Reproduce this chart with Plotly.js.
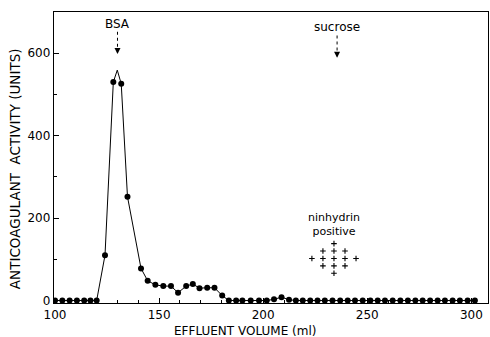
<!DOCTYPE html>
<html>
<head>
<meta charset="utf-8">
<script src="https://cdn.plot.ly/plotly-3.0.1.min.js"></script>
<style>html,body{margin:0;padding:0;background:#fff;}#chart{width:490px;height:337px;}</style>
</head>
<body>
<div id="chart"></div>
<script>
// Effluent volume (ml) of each collected fraction
const volume = [100, 103.5, 107, 110.5, 114, 117, 120, 124, 128, 131.8, 134.8, 141.3, 144.5, 148.2, 152, 155.7, 159.1, 163, 166.2, 169.4, 173.1, 176.6, 180.3, 183.5, 187, 190, 194, 198, 201.7, 205.2, 208.8, 212.4, 215.7, 219, 222.6, 226.1, 229.6, 233.3, 237, 240.6, 244.1, 247.8, 251.5, 255, 258.5, 262.2, 265.9, 269.5, 273.1, 276.6, 280.2, 283.8, 287.3, 291, 294.5, 298.2, 301.7];
// Anticoagulant activity (units)
const activity = [0, 0, 0, 0, 0, 0, 0, 110, 530, 526, 252, 78, 48, 38, 35, 35, 19, 35, 40, 30, 31, 31, 12, 0, 0, 0, 0, 0, 0, 3, 8, 2, 0, 0, 0, 0, 0, 0, 0, 0, 0, 0, 0, 0, 0, 0, 0, 0, 0, 0, 0, 0, 0, 0, 0, 0, 0];
// Apex of the hand-drawn curve between the two peak fractions
const apexVolume = [129.9];
const apexActivity = [559];
const xTicks = [100, 150, 200, 250, 300];
const yTicks = [0, 200, 400, 600];
const markerLabels = ["BSA", "sucrose"];
const markerVolumes = [130, 235.5];
// ninhydrin-positive symbol rows (count of "+" per row)
const plusRowCounts = [1, 3, 5, 3, 1];

const FONT = "DejaVu Sans, Liberation Sans, sans-serif";

// line through fractions plus the drawn apex
const pts = volume.map((v, i) => [v, activity[i]]).concat(apexVolume.map((v, i) => [v, apexActivity[i]]));
pts.sort((a, b) => a[0] - b[0]);

const lineTrace = {
  x: pts.map(p => p[0]), y: pts.map(p => p[1]),
  mode: "lines", line: {color: "#000", width: 1}, hoverinfo: "skip"
};
const markerTrace = {
  x: volume, y: activity, mode: "markers",
  marker: {color: "#000", size: 6}, hoverinfo: "skip"
};

// plus-sign diamond (layout of a symbol, centred under the label)
const plusX = [], plusY = [];
const cx = 234, cy = 102, colStep = 5.3, rowStep = 18;
plusRowCounts.forEach((n, r) => {
  for (let c = 0; c < n; c++) {
    plusX.push(cx + (c - (n - 1) / 2) * colStep);
    plusY.push(cy + (2 - r) * rowStep);
  }
});
const plusTrace = {
  x: plusX, y: plusY, mode: "markers",
  marker: {symbol: "cross-thin-open", size: 4, color: "#000", line: {color: "#000", width: 1.1}},
  hoverinfo: "skip"
};

const annotations = [];
const shapes = [];
markerLabels.forEach((t, i) => {
  const x = markerVolumes[i];
  const ytxt = i === 0 ? 672 : 663;
  annotations.push({x: x, y: ytxt, xref: "x", yref: "y", text: t, showarrow: false,
    font: {family: FONT, size: 12, color: "#000"}});
  shapes.push({type: "line", xref: "x", yref: "y", x0: x, x1: x, y0: ytxt - 20, y1: ytxt - 66,
    line: {color: "#000", width: 1, dash: "dot"}});
  annotations.push({x: x, y: ytxt - 74, xref: "x", yref: "y", ax: 0, ay: -6, text: "",
    showarrow: true, arrowhead: 2, arrowsize: 1, arrowwidth: 1.2, arrowcolor: "#000"});
});
annotations.push({x: cx, y: 184, xref: "x", yref: "y", text: "ninhydrin<br>positive",
  showarrow: false, font: {family: FONT, size: 11, color: "#000"}});
annotations.push({x: 0.44, y: 0, xref: "paper", yref: "paper", yshift: -28, xanchor: "center", yanchor: "middle",
  text: "EFFLUENT VOLUME (ml)", showarrow: false, font: {family: FONT, size: 12, color: "#000"}});
annotations.push({x: 0, y: 0.46, xref: "paper", yref: "paper", xshift: -39, xanchor: "center", yanchor: "middle",
  textangle: -90, text: "ANTICOAGULANT  ACTIVITY (UNITS)", showarrow: false,
  font: {family: FONT, size: 13.5, color: "#000"}});

const layout = {
  width: 490, height: 337,
  margin: {l: 54, r: 2, t: 12, b: 34},
  paper_bgcolor: "#fff", plot_bgcolor: "#fff",
  showlegend: false,
  font: {family: FONT, size: 12, color: "#000"},
  xaxis: {
    range: [99.5, 308], tickvals: xTicks, ticktext: xTicks.map(String),
    ticks: "inside", ticklen: 5, tickcolor: "#000",
    minor: {tickvals: [110,120,130,140,160,170,180,190,210,220,230,240,260,270,280,290], ticks: "inside", ticklen: 3, tickcolor: "#000"},
    showline: true, linecolor: "#000", linewidth: 1.3, mirror: true,
    showgrid: false, zeroline: false,
    tickfont: {family: FONT, size: 12, color: "#000"}
  },
  yaxis: {
    range: [-6, 700], tickvals: yTicks, ticktext: yTicks.map(String),
    ticks: "inside", ticklen: 5, tickcolor: "#000",
    minor: {tickvals: [100, 300, 500], ticks: "inside", ticklen: 3, tickcolor: "#000"},
    showline: true, linecolor: "#000", linewidth: 1.3, mirror: true,
    showgrid: false, zeroline: false,
    tickfont: {family: FONT, size: 12, color: "#000"}
  },
  annotations: annotations,
  shapes: shapes
};

Plotly.newPlot("chart", [lineTrace, markerTrace, plusTrace], layout, {displayModeBar: false, staticPlot: true});
</script>
</body>
</html>
